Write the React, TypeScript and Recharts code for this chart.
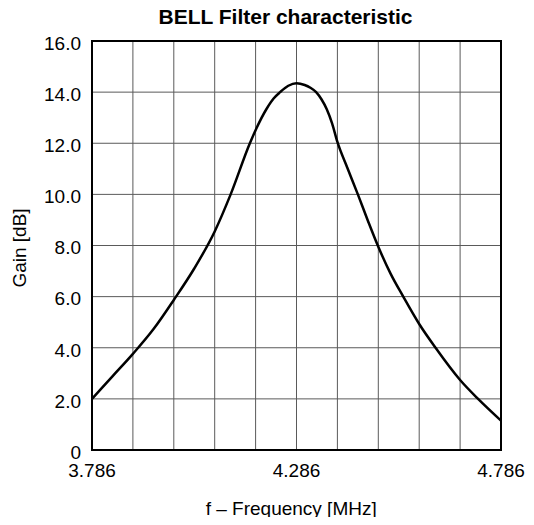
import React from 'react';
import { LineChart, Line, XAxis, YAxis, CartesianGrid, ReferenceArea, Customized } from 'recharts';

const frequency = [3.786, 3.836, 3.886, 3.936, 3.986, 4.036, 4.086, 4.125, 4.172, 4.187, 4.213, 4.230, 4.246, 4.266, 4.286, 4.306, 4.320, 4.334, 4.347, 4.360, 4.373, 4.386, 4.410, 4.436, 4.461, 4.486, 4.516, 4.547, 4.586, 4.626, 4.686, 4.730, 4.786];
const gain = [2.0, 2.88, 3.76, 4.72, 5.87, 7.1, 8.55, 10.0, 12.0, 12.55, 13.35, 13.75, 14.0, 14.25, 14.35, 14.28, 14.17, 14.0, 13.72, 13.33, 12.78, 12.05, 11.05, 10.0, 8.95, 7.95, 6.9, 6.0, 4.93, 4.0, 2.74, 2.0, 1.15];

const xTicks = [3.786, 3.886, 3.986, 4.086, 4.186, 4.286, 4.386, 4.486, 4.586, 4.686, 4.786];
const xLabeled = [3.786, 4.286, 4.786];
const yTicks = [0, 2, 4, 6, 8, 10, 12, 14, 16];

const title = 'BELL Filter characteristic';
const xTitle = 'f – Frequency [MHz]';
const yTitle = 'Gain [dB]';

const data = frequency.map((f, i) => ({ f, g: gain[i] }));

const FONT = '"Liberation Sans", Arial, sans-serif';

const XTick = (props: any) => {
  const { x, y, payload } = props;
  const v = payload.value;
  if (!xLabeled.some((t) => Math.abs(t - v) < 1e-6)) return <g />;
  return (
    <text x={x} y={y + 27} textAnchor="middle" fontFamily={FONT} fontSize={19} fill="#000">
      {v.toFixed(3)}
    </text>
  );
};

const YTick = (props: any) => {
  const { x, y, payload } = props;
  const v = payload.value;
  return (
    <text x={x} y={y + 8.8} textAnchor="end" fontFamily={FONT} fontSize={19} fill="#000">
      {v === 0 ? '0' : v.toFixed(1)}
    </text>
  );
};

const Titles = () => (
  <g>
    <text x={285.5} y={23.5} textAnchor="middle" fontFamily={FONT} fontSize={21} fontWeight="bold" fill="#000">
      {title}
    </text>
    <text x={291.2} y={515.3} textAnchor="middle" fontFamily={FONT} fontSize={19} fill="#000">
      {xTitle}
    </text>
    <text x={26} y={248} transform="rotate(-90, 26, 248)" textAnchor="middle" fontFamily={FONT} fontSize={19} fill="#000">
      {yTitle}
    </text>
  </g>
);

export default function App() {
  return (
    <div style={{ margin: -8, width: 534, height: 525 }}>
      <LineChart width={534} height={525} data={data} margin={{ top: 41, right: 33, bottom: 45, left: 32 }}>
        <CartesianGrid stroke="#5a5a5a" strokeWidth={1} />
        <XAxis
          dataKey="f"
          type="number"
          domain={[3.786, 4.786]}
          ticks={xTicks}
          interval={0}
          height={30}
          tickSize={0}
          tickMargin={0}
          axisLine={false}
          tickLine={false}
          tick={<XTick />}
          allowDataOverflow
        />
        <YAxis
          type="number"
          domain={[0, 16]}
          ticks={yTicks}
          interval={0}
          width={60}
          tickSize={0}
          tickMargin={11}
          axisLine={false}
          tickLine={false}
          tick={<YTick />}
          allowDataOverflow
        />
        <ReferenceArea x1={3.786} x2={4.786} y1={0} y2={16} fill="none" fillOpacity={0} stroke="#000" strokeWidth={2} ifOverflow="visible" />
        <Line type="monotone" dataKey="g" stroke="#000" strokeWidth={2.5} dot={false} isAnimationActive={false} />
        <Customized component={Titles} />
      </LineChart>
    </div>
  );
}
